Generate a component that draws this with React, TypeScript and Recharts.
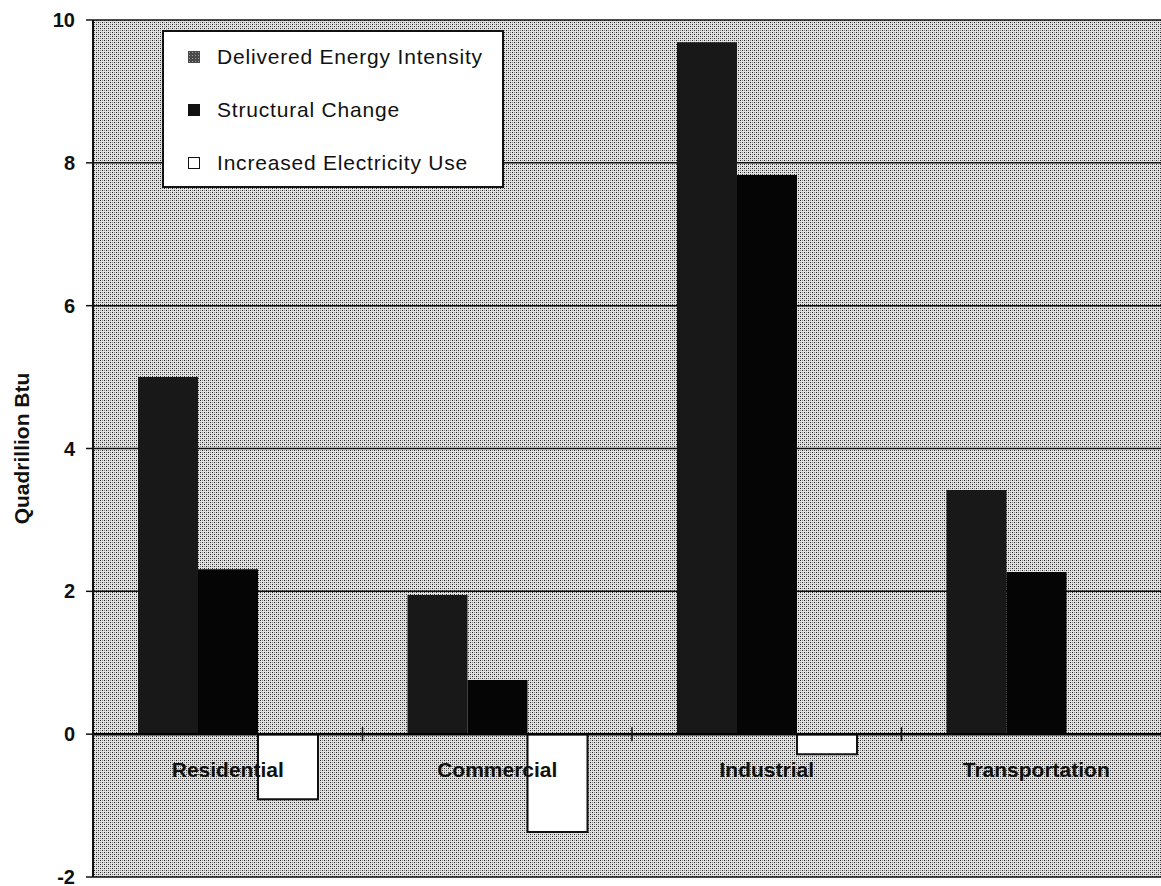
import { Bar, BarChart, CartesianGrid, Legend, ReferenceLine, XAxis, YAxis } from "recharts"

const sectors = ["Residential", "Commercial", "Industrial", "Transportation"]
const deliveredIntensity = [5.0, 1.95, 9.69, 3.42]
const structuralChange = [2.31, 0.76, 7.83, 2.27]
const electricityUse = [-0.91, -1.37, -0.28, 0]
const yTicks = [-2, 0, 2, 4, 6, 8, 10]
const seriesNames = ["Delivered Energy Intensity", "Structural Change", "Increased Electricity Use"]

const data = sectors.map((sector, i) => ({
  sector,
  delivered: deliveredIntensity[i],
  structural: structuralChange[i],
  electricity: electricityUse[i],
}))

const WIDTH = 1175
const HEIGHT = 886
const Y_AXIS_W = 93
const MARGIN = { top: 20, right: 4, bottom: 8, left: 0 }
const X_AXIS_H = 1
const PLOT_W = WIDTH - MARGIN.left - MARGIN.right - Y_AXIS_W
const PLOT_H = HEIGHT - MARGIN.top - MARGIN.bottom - X_AXIS_H
const BAND = PLOT_W / sectors.length
const Y_MIN = -2
const Y_MAX = 10
const ZERO_Y = MARGIN.top + (PLOT_H * Y_MAX) / (Y_MAX - Y_MIN)
const FONT = '"Liberation Sans", Arial, Helvetica, sans-serif'

// category label sits just under the zero line, with a divider tick between categories
const SectorTick = ({ x, payload, index }: any) => (
  <g>
    {index < sectors.length - 1 && (
      <line
        x1={x + BAND / 2}
        x2={x + BAND / 2}
        y1={ZERO_Y - 7}
        y2={ZERO_Y + 7}
        stroke="#111"
        strokeWidth={1.5}
      />
    )}
    <text
      x={x}
      y={ZERO_Y + 43}
      textAnchor="middle"
      fontFamily={FONT}
      fontSize={21}
      fontWeight="bold"
      fill="#111"
    >
      {payload.value}
    </text>
  </g>
)

const AxisTitle = (props: any) => {
  const vb = props.viewBox || {}
  const cy = vb.height ? vb.y + vb.height / 2 : MARGIN.top + PLOT_H / 2
  return (
    <text
      transform={`translate(21, ${cy}) rotate(-90)`}
      textAnchor="middle"
      dominantBaseline="central"
      fontFamily={FONT}
      fontSize={21}
      fontWeight="bold"
      fill="#111"
    >
      Quadrillion Btu
    </text>
  )
}

const swatches: React.CSSProperties[] = [
  {
    background: "#4a4a4a",
    backgroundImage: "radial-gradient(#999 0.6px, transparent 0.8px)",
    backgroundSize: "3px 3px",
  },
  { background: "#111" },
  { background: "#fff", border: "1.5px solid #111" },
]

const LegendBox = () => (
  <div
    style={{
      position: "relative",
      width: "100%",
      height: "100%",
      boxSizing: "border-box",
      border: "2px solid #111",
      background: "#fff",
      fontFamily: FONT,
      fontSize: 21,
      letterSpacing: 0.8,
      color: "#111",
    }}
  >
    {seriesNames.map((name, i) => (
      <div
        key={name}
        style={{
          position: "absolute",
          left: 24,
          top: 13 + i * 53,
          height: 24,
          lineHeight: "24px",
          display: "flex",
          alignItems: "center",
          whiteSpace: "nowrap",
        }}
      >
        <span style={{ display: "inline-block", width: 12, height: 12, boxSizing: "border-box", ...swatches[i] }} />
        <span style={{ marginLeft: 17 }}>{name}</span>
      </div>
    ))}
  </div>
)

const App = () => {
  return (
    <div style={{ position: "absolute", left: 0, top: 0, width: 1161, height: 886, overflow: "hidden", background: "#fff" }}>
      <BarChart
        width={WIDTH}
        height={HEIGHT}
        data={data}
        margin={MARGIN}
        barCategoryGap="16.7%"
        barGap={0}
      >
        <defs>
          <pattern id="dither" width={4} height={4} patternUnits="userSpaceOnUse">
            <rect width={4} height={4} fill="#e2e2e2" />
            <rect x={0} y={0} width={1} height={1} fill="#222" />
            <rect x={2} y={2} width={1} height={1} fill="#222" />
            <rect x={2} y={0} width={1} height={1} fill="#888" />
            <rect x={0} y={2} width={1} height={1} fill="#888" />
          </pattern>
        </defs>
        <CartesianGrid vertical={false} stroke="#111" strokeWidth={1.5} fill="url(#dither)" fillOpacity={1} />
        <YAxis
          domain={[Y_MIN, Y_MAX]}
          ticks={yTicks}
          interval={0}
          width={Y_AXIS_W}
          axisLine={{ stroke: "#111", strokeWidth: 2 }}
          tickLine={{ stroke: "#111", strokeWidth: 1.5 }}
          tickSize={7}
          tickMargin={11}
          tick={{ fontFamily: FONT, fontSize: 20, fontWeight: "bold", fill: "#111" }}
          label={<AxisTitle />}
        />
        <ReferenceLine y={0} stroke="#000" strokeWidth={2.5} />
        <Bar dataKey="delivered" name={seriesNames[0]} fill="#181818" isAnimationActive={false} />
        <Bar dataKey="structural" name={seriesNames[1]} fill="#050505" isAnimationActive={false} />
        <Bar
          dataKey="electricity"
          name={seriesNames[2]}
          fill="#fff"
          stroke="#111"
          strokeWidth={2}
          isAnimationActive={false}
        />
        <XAxis
          dataKey="sector"
          height={X_AXIS_H}
          interval={0}
          axisLine={false}
          tickLine={false}
          tick={<SectorTick />}
        />
        <Legend
          layout="vertical"
          align="center"
          verticalAlign="middle"
          content={<LegendBox />}
          wrapperStyle={{ left: 162, top: 30, width: 342, height: 158 }}
        />
      </BarChart>
    </div>
  )
}

export default App
